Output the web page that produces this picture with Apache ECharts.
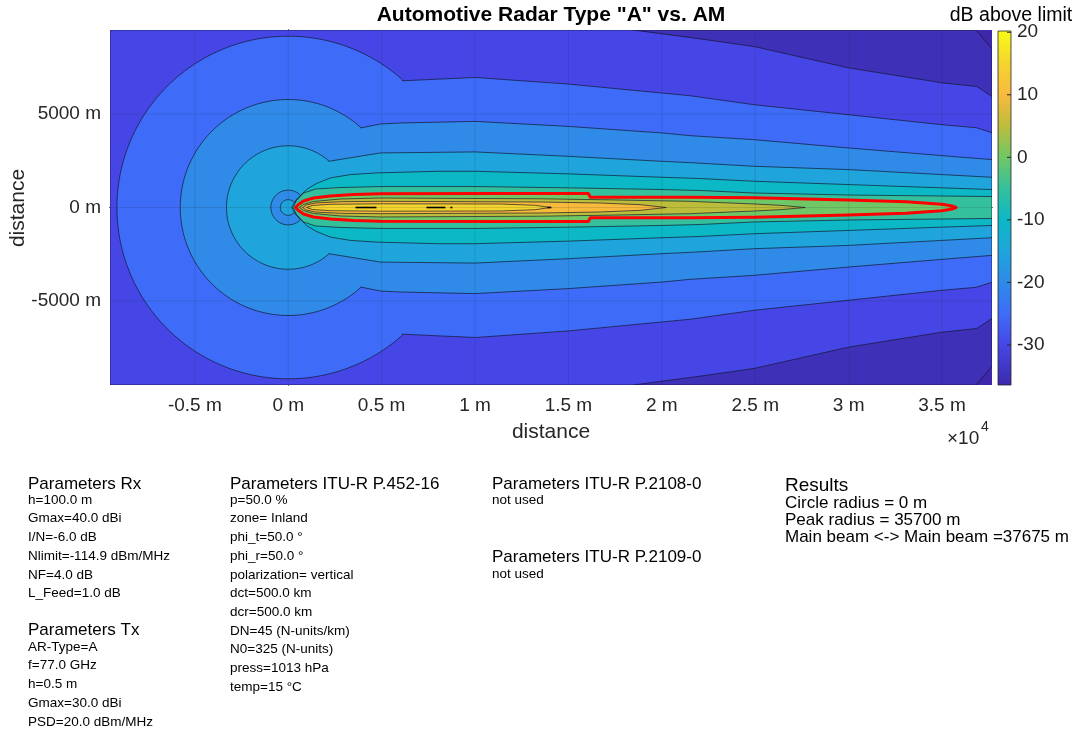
<!DOCTYPE html>
<html><head><meta charset="utf-8">
<script src="https://cdn.jsdelivr.net/npm/echarts@6/dist/echarts.min.js"></script>
<style>html,body{margin:0;padding:0;background:#fff;}#c{width:1078px;height:731px;}</style>
</head><body><div id="c"></div>
<script>
// ---------- axes ----------
const xRange = [-9540, 37675];
const yRange = [-9500, 9500];
const xTicks = [-5000, 0, 5000, 10000, 15000, 20000, 25000, 30000, 35000];
const xTickLabels = ['-0.5 m', '0 m', '0.5 m', '1 m', '1.5 m', '2 m', '2.5 m', '3 m', '3.5 m'];
const yTicks = [-5000, 0, 5000];
const yTickLabels = ['-5000 m', '0 m', '5000 m'];
const cbRange = [-36.4, 20.2];
const cbTicks = [-30, -20, -10, 0, 10, 20];
// ---------- contour levels & band colours ----------
const levels = [-35, -30, -25, -20, -15, -10, -5, 0, 5, 10, 15, 20];
const bandColors = ['#3e27a9', '#3e31b8', '#4646e6', '#3e6cf8', '#2f8ae8', '#1fa5dc', '#0cb8c5', '#35c09d', '#70c766', '#bdbd3c', '#f8ba3d', '#f4d52f', '#f9fb15'];
// ---------- contour lines, upper half (metres) ----------
const cM35 = [[36820, 9500], [37675, 8490]];
const cM30 = [[18400, 9500], [18850, 9450], [22060, 9025], [24950, 8613], [29980, 7476], [34990, 6675], [36860, 6477], [37675, 5940]];
const cM25 = [[6099, 6782], [10020, 6958], [14996, 6606], [20009, 6125], [21523, 5981], [24947, 5500], [29976, 4966], [34989, 4432], [36824, 4272], [37675, 4005]];
const cM20 = [[3868, 4256], [4938, 4470], [6008, 4523], [10020, 4608], [14996, 4341], [20009, 3989], [21523, 3845], [24947, 3631], [29976, 3188], [34989, 2777], [37675, 2563]];
const cM15 = [[2172, 2472], [4938, 2921], [10020, 2974], [14996, 2739], [20009, 2472], [21523, 2400], [24947, 2205], [29976, 2029], [34989, 1762], [37675, 1618]];
const circleRadii = [9170, 5780, 3305];          // -25, -20, -15 dB circles
const islandRadii = [930, 420];                  // C-shaped island near origin (outer, inner)
const islandOpenDeg = [45, 40];
const cM10 = [[180, 0], [337, 267], [605, 587], [979, 961], [1514, 1282], [2263, 1586], [3333, 1762], [4762, 1853], [7972, 1938], [10020, 1938], [14996, 1800], [20009, 1618], [22084, 1549], [24947, 1404], [29976, 1228], [34989, 1052], [37675, 961]];
const cM5 = [[260, 0], [444, 374], [819, 774], [1461, 988], [2798, 1068], [4938, 1121], [10020, 1121], [14996, 1052], [20009, 961], [22084, 908], [24947, 774], [29976, 668], [34989, 614], [37675, 587]];
const c0 = [[391, 0], [551, 160], [819, 347], [1354, 507], [2263, 614], [3494, 694], [4938, 732], [11358, 748], [16066, 748], [16173, 545], [21523, 545], [24947, 518], [29976, 401], [33079, 304], [34989, 176], [35540, 80], [35750, 0]];
const c5 = [[605, 0], [819, 160], [1354, 320], [2798, 454], [4938, 507], [13498, 465], [16708, 417], [21523, 331], [24947, 187], [26338, 117], [27676, 0]];
const c10 = [[765, 0], [979, 134], [1461, 240], [2798, 310], [4938, 331], [13498, 294], [16708, 240], [18848, 150], [20239, 0]];
const c15 = [[979, 0], [1300, 107], [2263, 171], [4938, 198], [11358, 187], [13230, 117], [14033, 0]];
const peaks20 = [[3600, 4724], [7399, 8415], [8682, 8789], [13872, 14086]];
// ---------- text ----------
const titleText = 'Automotive Radar Type "A" vs. AM';
const cbTitle = 'dB above limit';
const rxLines = ['h=100.0 m', 'Gmax=40.0 dBi', 'I/N=-6.0 dB', 'Nlimit=-114.9 dBm/MHz', 'NF=4.0 dB', 'L_Feed=1.0 dB'];
const txLines = ['AR-Type=A', 'f=77.0 GHz', 'h=0.5 m', 'Gmax=30.0 dBi', 'PSD=20.0 dBm/MHz'];
const p452Lines = ['p=50.0 %', 'zone= Inland', 'phi_t=50.0 °', 'phi_r=50.0 °', 'polarization= vertical', 'dct=500.0 km', 'dcr=500.0 km', 'DN=45 (N-units/km)', 'N0=325 (N-units)', 'press=1013 hPa', 'temp=15 °C'];
const resultLines = ['Circle radius = 0 m', 'Peak radius = 35700 m', 'Main beam <-> Main beam =37675 m'];

// ---------- build polygons ----------
const [xMin, xMax] = xRange, [yMin, yMax] = yRange;
function mirror(p) { return p.slice().reverse().map(q => [q[0], -q[1]]); }
function closed(up) { return up.concat(mirror(up)); }
function arc(r, a0, a1, n) { const o = []; for (let i = 0; i <= n; i++) { const a = (a0 + (a1 - a0) * i / n) * Math.PI / 180; o.push([r * Math.cos(a), r * Math.sin(a)]); } return o; }
function circ(r, line) { const t = Math.atan2(line[0][1], line[0][0]) * 180 / Math.PI; return closed(arc(r, 180, t, 60).concat(line)); }
const LINE = 'rgba(20,20,40,0.85)';
const polys = [
  { pts: [[xMin, yMax], [xMax, yMax], [xMax, yMin], [xMin, yMin]], fill: bandColors[0], lw: 0 },
  { pts: [[xMin, yMax]].concat(cM35, mirror(cM35), [[xMin, yMin]]), fill: bandColors[1] },
  { pts: [[xMin, yMax]].concat(cM30, mirror(cM30), [[xMin, yMin]]), fill: bandColors[2] },
  { pts: circ(circleRadii[0], cM25), fill: bandColors[3] },
  { pts: circ(circleRadii[1], cM20), fill: bandColors[4] },
  { pts: circ(circleRadii[2], cM15), fill: bandColors[5] },
  { pts: arc(islandRadii[0], islandOpenDeg[0], 360 - islandOpenDeg[0], 50).concat(arc(islandRadii[1], 360 - islandOpenDeg[1], islandOpenDeg[1], 40)), fill: bandColors[4] },
  { pts: closed(cM10), fill: bandColors[6] },
  { pts: closed(cM5), fill: bandColors[7] },
  { pts: closed(c0), fill: bandColors[8] },
  { pts: closed(c5), fill: bandColors[9] },
  { pts: closed(c10), fill: bandColors[10] },
  { pts: closed(c15), fill: bandColors[11] },
  { pts: closed(c0), fill: 'none', stroke: '#ff0000', lw: 3 }
];
peaks20.forEach(p => polys.push({ pts: [[p[0], 0], [p[1], 0]], fill: 'none', stroke: '#000', lw: 1.6, line: true }));

const FONT = '"Liberation Sans", Arial, Helvetica, sans-serif';
const tcol = '#262626';
const cbT = L => (L - cbRange[0]) / (cbRange[1] - cbRange[0]);
const stops = [{ offset: 0, color: bandColors[0] }]
  .concat(levels.slice(0, 11).map((L, i) => ({ offset: cbT(L), color: bandColors[i + 1] })))
  .concat([{ offset: 1, color: bandColors[12] }]);

const chart = echarts.init(document.getElementById('c'), null, { renderer: 'canvas' });
const axLine = { show: true, lineStyle: { color: tcol, width: 1 } };
function txt(x, y, text, size, opts) {
  return { type: 'text', x: x, y: y, silent: true, style: Object.assign({ text: text, font: size + 'px ' + FONT, fill: '#000', textAlign: 'left', textVerticalAlign: 'middle' }, opts || {}) };
}
function block(x, y0, lines, size, lh) {
  return { type: 'text', x: x, y: y0 - lh / 2, silent: true, style: { text: lines.join('\n'), font: size + 'px ' + FONT, fill: '#000', lineHeight: lh, textAlign: 'left', textVerticalAlign: 'top' } };
}
chart.setOption({
  animation: false,
  backgroundColor: '#fff',
  grid: [
    { left: 110, top: 30, width: 882, height: 355 },
    { left: 998, top: 31, width: 13, height: 354 }
  ],
  xAxis: [
    { type: 'value', gridIndex: 0, min: xMin, max: xMax, position: 'bottom', axisLine: axLine, splitLine: { show: false },
      axisTick: { inside: true, length: 7, customValues: xTicks, lineStyle: { color: tcol } },
      axisLabel: { customValues: xTicks, formatter: v => xTickLabels[xTicks.indexOf(v)], fontSize: 19, fontFamily: FONT, color: tcol, margin: 11 } },
    { type: 'value', gridIndex: 0, min: xMin, max: xMax, position: 'top', axisLine: axLine, splitLine: { show: false },
      axisTick: { inside: true, length: 7, customValues: xTicks, lineStyle: { color: tcol } }, axisLabel: { show: false } },
    { type: 'value', gridIndex: 1, min: 0, max: 1, show: false }
  ],
  yAxis: [
    { type: 'value', gridIndex: 0, min: yMin, max: yMax, position: 'left', axisLine: axLine, splitLine: { show: false },
      axisTick: { inside: true, length: 7, customValues: yTicks, lineStyle: { color: tcol } },
      axisLabel: { customValues: yTicks, formatter: v => yTickLabels[yTicks.indexOf(v)], fontSize: 19, fontFamily: FONT, color: tcol, margin: 9 } },
    { type: 'value', gridIndex: 0, min: yMin, max: yMax, position: 'right', axisLine: axLine, splitLine: { show: false },
      axisTick: { inside: true, length: 7, customValues: yTicks, lineStyle: { color: tcol } }, axisLabel: { show: false } },
    { type: 'value', gridIndex: 1, min: cbRange[0], max: cbRange[1], position: 'right', axisLine: { show: false }, splitLine: { show: false },
      axisTick: { show: false },
      axisLabel: { customValues: cbTicks, fontSize: 19, fontFamily: FONT, color: tcol, margin: 6 } }
  ],
  series: [
    { type: 'custom', xAxisIndex: 0, yAxisIndex: 0, silent: true, clip: true, z: 2,
      data: polys.map((p, i) => [i, 0]),
      renderItem: function (params, api) {
        const p = polys[params.dataIndex];
        const pts = p.pts.map(q => api.coord(q));
        return { type: p.line ? 'polyline' : 'polygon', shape: { points: pts },
          style: { fill: p.fill, stroke: p.stroke || (p.lw === 0 ? null : LINE), lineWidth: p.lw === undefined ? 0.8 : p.lw, lineJoin: 'round' } };
      } },
    { type: 'custom', xAxisIndex: 0, yAxisIndex: 0, silent: true, z: 3,
      data: xTicks.map(v => [v, 0, 0]).concat(yTicks.map(v => [0, v, 1])),
      renderItem: function (params, api) {
        const d = params.dataIndex < xTicks.length;
        const v = d ? xTicks[params.dataIndex] : yTicks[params.dataIndex - xTicks.length];
        const a = d ? api.coord([v, yMin]) : api.coord([xMin, v]);
        const b = d ? api.coord([v, yMax]) : api.coord([xMax, v]);
        return { type: 'line', shape: { x1: a[0], y1: a[1], x2: b[0], y2: b[1] }, style: { stroke: 'rgba(38,38,38,0.14)', lineWidth: 1 } };
      } },
    { type: 'custom', xAxisIndex: 2, yAxisIndex: 2, silent: true, z: 2, data: [[0, 0]],
      renderItem: function (params, api) {
        const a = api.coord([0, cbRange[1]]), b = api.coord([1, cbRange[0]]);
        const kids = [{ type: 'rect', shape: { x: a[0], y: a[1], width: b[0] - a[0], height: b[1] - a[1] },
          style: { fill: new echarts.graphic.LinearGradient(0, 1, 0, 0, stops), stroke: tcol, lineWidth: 0.8 } }];
        cbTicks.forEach(t => {
          const p = api.coord([1, t]);
          kids.push({ type: 'line', shape: { x1: p[0] - 4, y1: p[1], x2: p[0], y2: p[1] }, style: { stroke: tcol, lineWidth: 1 } });
        });
        return { type: 'group', children: kids };
      } }
  ],
  graphic: [
    txt(551, 15, titleText, 21, { textAlign: 'center', font: 'bold 21px ' + FONT }),
    txt(1011, 16, cbTitle, 19.5, { textAlign: 'center', fill: '#000' }),
    txt(551, 432, 'distance', 21, { textAlign: 'center', fill: tcol }),
    Object.assign(txt(18, 208, 'distance', 21, { textAlign: 'center', fill: tcol }), { rotation: Math.PI / 2 }),
    txt(947, 439, '×10', 19, { fill: tcol }),
    txt(981, 427, '4', 14, { fill: tcol }),
    txt(28, 484, 'Parameters Rx', 17),
    block(28, 500, rxLines, 13.5, 18.7),
    txt(28, 630, 'Parameters Tx', 17),
    block(28, 647, txLines, 13.5, 18.7),
    txt(230, 484, 'Parameters ITU-R P.452-16', 17),
    block(230, 500, p452Lines, 13.5, 18.7),
    txt(492, 484, 'Parameters ITU-R P.2108-0', 17),
    block(492, 500, ['not used'], 13.5, 18.7),
    txt(492, 557, 'Parameters ITU-R P.2109-0', 17),
    block(492, 574, ['not used'], 13.5, 18.7),
    txt(785, 486, 'Results', 19),
    block(785, 503, resultLines, 17, 17.4)
  ]
});
</script></body></html>
